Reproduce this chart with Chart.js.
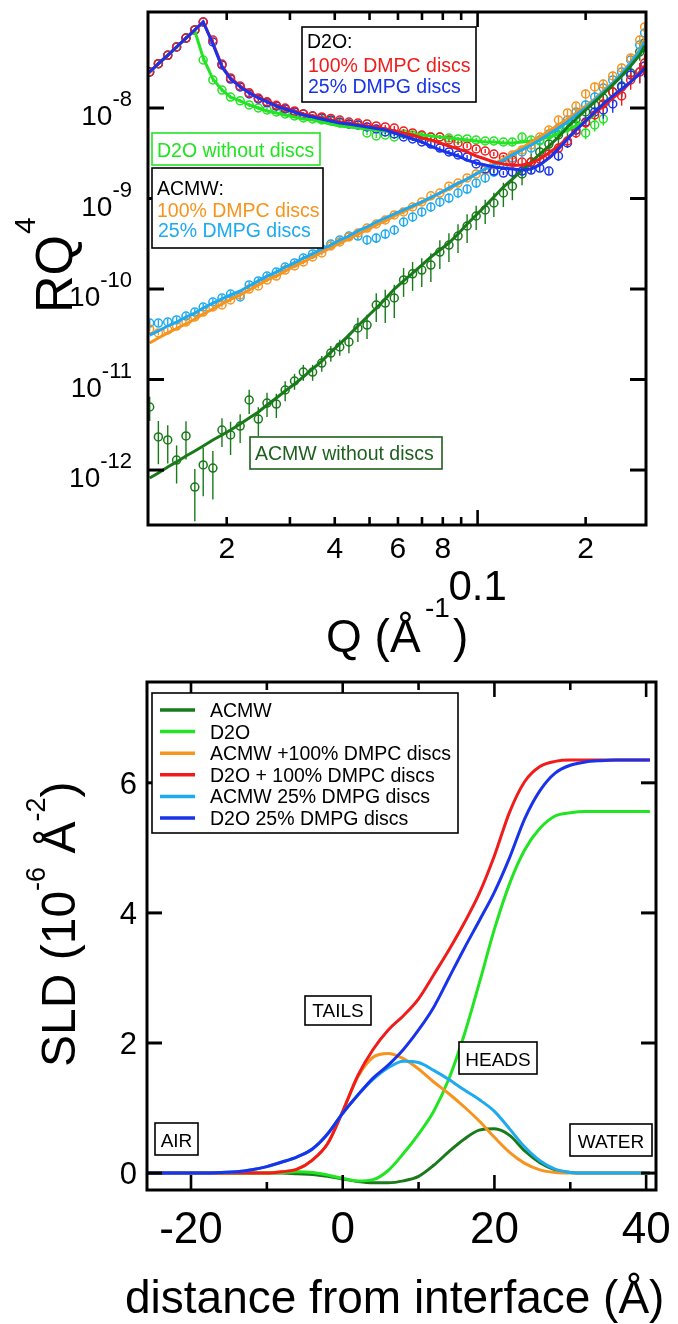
<!DOCTYPE html>
<html><head><meta charset="utf-8">
<script src="https://cdn.jsdelivr.net/npm/chart.js@4.4.1/dist/chart.umd.min.js"></script>
<style>
html,body{margin:0;padding:0;background:#fff;}
#wrap{position:relative;width:678px;height:1324px;overflow:hidden;background:#fff;}
#c1{position:absolute;left:0;top:0;}
#c2{position:absolute;left:0;top:660px;}
</style></head><body>
<div id="wrap">
<canvas id="c1" width="678" height="675"></canvas>
<canvas id="c2" width="678" height="664"></canvas>
</div>
<script>
// ================= DATA : reflectivity (top) =================
const qValues = [0.0122,0.0129,0.0137,0.0145,0.0154,0.0163,0.0172,0.0183,0.0194,0.0205,0.0218,0.0231,0.0245,0.0259,0.0275,0.0291,0.0309,0.0327,0.0347,0.0368,0.0390,0.0413,0.0438,0.0464,0.0492,0.0522,0.0553,0.0586,0.0622,0.0659,0.0699,0.0741,0.0785,0.0832,0.0882,0.0935,0.0991,0.105,0.111,0.118,0.125,0.133,0.141,0.149,0.158,0.168,0.178,0.188,0.200,0.212,0.224,0.238,0.252,0.267,0.283,0.292];

const rq4_D2O_DMPC = [2.50e-8,3.09e-8,3.82e-8,4.72e-8,5.92e-8,7.28e-8,8.92e-8,5.64e-8,3.06e-8,2.15e-8,1.75e-8,1.47e-8,1.29e-8,1.17e-8,1.07e-8,1.00e-8,9.27e-9,8.59e-9,8.16e-9,7.96e-9,7.66e-9,7.37e-9,7.00e-9,6.83e-9,6.66e-9,6.33e-9,6.17e-9,6.01e-9,5.57e-9,5.30e-9,5.03e-9,4.78e-9,4.78e-9,4.43e-9,4.11e-9,3.80e-9,3.53e-9,3.35e-9,3.10e-9,2.88e-9,2.66e-9,2.53e-9,2.53e-9,2.73e-9,3.10e-9,3.61e-9,4.32e-9,5.30e-9,6.83e-9,8.37e-9,1.11e-8,1.50e-8,1.36e-8,2.04e-8,2.50e-8,3.14e-8];
const fit_D2O_DMPC = [2.50e-8,3.09e-8,3.82e-8,4.72e-8,5.92e-8,7.28e-8,8.92e-8,5.23e-8,2.91e-8,2.15e-8,1.75e-8,1.50e-8,1.32e-8,1.20e-8,1.08e-8,1.00e-8,9.27e-9,8.59e-9,8.16e-9,7.76e-9,7.37e-9,7.00e-9,6.83e-9,6.58e-9,6.33e-9,6.17e-9,5.86e-9,5.57e-9,5.30e-9,5.03e-9,4.66e-9,4.43e-9,4.11e-9,3.80e-9,3.53e-9,3.27e-9,2.95e-9,2.73e-9,2.53e-9,2.41e-9,2.32e-9,2.35e-9,2.47e-9,2.73e-9,3.18e-9,3.80e-9,4.66e-9,5.71e-9,7.19e-9,8.81e-9,1.05e-8,1.29e-8,1.54e-8,1.94e-8,2.50e-8,2.91e-8];
const err_D2O_DMPC = [0.04,0.04,0.04,0.04,0.04,0.04,0.04,0.05,0.05,0.05,0.05,0.05,0.05,0.05,0.05,0.05,0.05,0.05,0.05,0.05,0.05,0.05,0.05,0.05,0.05,0.05,0.05,0.05,0.05,0.05,0.05,0.05,0.05,0.05,0.05,0.05,0.05,0.05,0.05,0.05,0.08,0.08,0.08,0.08,0.08,0.12,0.12,0.12,0.12,0.12,0.2,0.2,0.22,0.22,0.25,0.25];

const rq4_D2O_DMPG = [2.50e-8,3.09e-8,3.82e-8,4.72e-8,5.92e-8,7.28e-8,8.92e-8,5.36e-8,2.99e-8,2.09e-8,1.71e-8,1.43e-8,1.26e-8,1.14e-8,1.05e-8,9.76e-9,9.04e-9,8.59e-9,8.16e-9,7.76e-9,7.37e-9,7.00e-9,6.66e-9,6.49e-9,6.17e-9,5.86e-9,5.43e-9,5.16e-9,4.78e-9,4.55e-9,4.21e-9,4.00e-9,3.61e-9,3.27e-9,3.03e-9,2.88e-9,2.41e-9,2.12e-9,2.01e-9,1.91e-9,1.96e-9,2.01e-9,2.06e-9,2.17e-9,2.01e-9,2.95e-9,4.11e-9,5.71e-9,7.00e-9,9.04e-9,9.51e-9,1.11e-8,1.71e-8,2.32e-8,2.50e-8,2.91e-8];
const fit_D2O_DMPG = [2.50e-8,3.09e-8,3.82e-8,4.72e-8,5.92e-8,7.28e-8,8.92e-8,5.10e-8,2.84e-8,2.09e-8,1.71e-8,1.47e-8,1.29e-8,1.17e-8,1.05e-8,9.76e-9,9.04e-9,8.37e-9,7.96e-9,7.56e-9,7.19e-9,6.83e-9,6.66e-9,6.41e-9,6.17e-9,5.94e-9,5.71e-9,5.30e-9,4.91e-9,4.55e-9,4.21e-9,3.80e-9,3.44e-9,3.18e-9,2.95e-9,2.66e-9,2.47e-9,2.35e-9,2.23e-9,2.17e-9,2.12e-9,2.06e-9,2.12e-9,2.35e-9,2.80e-9,3.53e-9,4.55e-9,5.71e-9,7.19e-9,9.04e-9,1.11e-8,1.36e-8,1.62e-8,1.94e-8,2.38e-8,2.77e-8];
const err_D2O_DMPG = [0.04,0.04,0.04,0.04,0.04,0.04,0.04,0.05,0.05,0.05,0.05,0.05,0.05,0.05,0.05,0.05,0.05,0.05,0.05,0.05,0.05,0.05,0.05,0.05,0.05,0.05,0.05,0.05,0.05,0.05,0.05,0.05,0.05,0.05,0.05,0.05,0.05,0.05,0.05,0.05,0.08,0.08,0.08,0.08,0.08,0.12,0.12,0.12,0.12,0.12,0.2,0.2,0.22,0.22,0.25,0.25];

const rq4_D2O = [2.50e-8,3.09e-8,3.82e-8,4.72e-8,5.92e-8,7.28e-8,3.39e-8,2.04e-8,1.58e-8,1.32e-8,1.20e-8,1.08e-8,1.00e-8,9.51e-9,9.04e-9,8.59e-9,8.16e-9,7.76e-9,7.56e-9,7.37e-9,7.19e-9,6.83e-9,6.66e-9,6.49e-9,5.30e-9,4.91e-9,5.03e-9,4.78e-9,5.16e-9,5.03e-9,4.91e-9,4.78e-9,4.78e-9,4.66e-9,4.55e-9,4.55e-9,4.43e-9,4.32e-9,4.32e-9,4.21e-9,4.21e-9,4.78e-9,4.43e-9,4.32e-9,5.03e-9,5.43e-9,6.17e-9,6.49e-9,5.30e-9,6.49e-9,7.56e-9];
const fit_D2O = [2.50e-8,3.09e-8,3.82e-8,4.72e-8,5.92e-8,7.10e-8,3.57e-8,2.09e-8,1.58e-8,1.32e-8,1.20e-8,1.08e-8,1.00e-8,9.27e-9,8.81e-9,8.37e-9,7.96e-9,7.56e-9,7.37e-9,7.00e-9,6.66e-9,6.33e-9,6.17e-9,6.01e-9,5.86e-9,5.71e-9,5.57e-9,5.43e-9,5.30e-9,5.16e-9,5.03e-9,4.91e-9,4.78e-9,4.66e-9,4.55e-9,4.43e-9,4.32e-9,4.21e-9,4.21e-9,4.11e-9,4.11e-9,4.21e-9,4.32e-9,4.55e-9,4.78e-9,5.16e-9,5.71e-9,6.33e-9,7.19e-9,8.37e-9];
const err_D2O = [0.04,0.04,0.04,0.04,0.04,0.04,0.04,0.05,0.05,0.05,0.05,0.05,0.05,0.05,0.05,0.05,0.05,0.05,0.05,0.05,0.05,0.05,0.05,0.05,0.05,0.05,0.05,0.05,0.05,0.05,0.05,0.05,0.05,0.05,0.05,0.05,0.05,0.05,0.05,0.05,0.08,0.08,0.08,0.08,0.08,0.15,0.15,0.15,0.15,0.15,0.15];

const rq4_ACMW_DMPC = [3.61e-11,3.27e-11,3.53e-11,3.90e-11,4.32e-11,4.91e-11,5.57e-11,6.33e-11,6.66e-11,7.56e-11,8.59e-11,1.00e-10,1.08e-10,1.26e-10,1.39e-10,1.62e-10,1.80e-10,1.99e-10,2.26e-10,2.50e-10,2.99e-10,3.31e-10,3.76e-10,4.16e-10,4.72e-10,5.23e-10,5.79e-10,6.58e-10,7.10e-10,8.06e-10,9.16e-10,1.07e-9,1.15e-9,1.37e-9,1.48e-9,1.69e-9,1.87e-9,2.06e-9,2.35e-9,2.66e-9,3.03e-9,3.44e-9,3.90e-9,4.78e-9,5.71e-9,7.37e-9,8.81e-9,1.05e-8,1.43e-8,1.71e-8,1.84e-8,2.26e-8,2.77e-8,3.57e-8,5.64e-8,7.86e-8];
const fit_ACMW_DMPC = [2.53e-11,2.88e-11,3.27e-11,3.66e-11,4.11e-11,4.66e-11,5.30e-11,6.01e-11,6.83e-11,7.66e-11,8.59e-11,9.76e-11,1.11e-10,1.26e-10,1.39e-10,1.58e-10,1.80e-10,1.99e-10,2.26e-10,2.56e-10,2.84e-10,3.22e-10,3.57e-10,4.05e-10,4.49e-10,5.10e-10,5.64e-10,6.41e-10,7.10e-10,8.06e-10,8.92e-10,1.01e-9,1.15e-9,1.27e-9,1.45e-9,1.64e-9,1.87e-9,2.12e-9,2.41e-9,2.73e-9,3.18e-9,3.61e-9,4.21e-9,4.78e-9,5.57e-9,6.49e-9,7.56e-9,8.81e-9,1.05e-8,1.26e-8,1.54e-8,1.89e-8,2.38e-8,3.22e-8,4.38e-8,5.64e-8];
const err_ACMW_DMPC = [0.06,0.06,0.06,0.06,0.06,0.06,0.06,0.06,0.06,0.06,0.06,0.06,0.06,0.06,0.06,0.06,0.06,0.06,0.06,0.06,0.06,0.06,0.06,0.06,0.06,0.06,0.06,0.06,0.06,0.06,0.06,0.06,0.06,0.06,0.06,0.06,0.06,0.06,0.06,0.06,0.08,0.08,0.08,0.08,0.08,0.08,0.08,0.08,0.12,0.12,0.12,0.12,0.12,0.12,0.12,0.12];

const rq4_ACMW_DMPG = [4.21e-11,4.21e-11,4.32e-11,4.55e-11,5.03e-11,5.57e-11,6.33e-11,7.19e-11,7.96e-11,8.81e-11,8.16e-11,1.11e-10,1.23e-10,1.39e-10,1.54e-10,1.75e-10,1.94e-10,2.20e-10,2.44e-10,2.77e-10,3.14e-10,3.48e-10,3.85e-10,3.85e-10,3.48e-10,3.66e-10,4.05e-10,4.49e-10,5.50e-10,6.25e-10,7.10e-10,8.06e-10,9.16e-10,1.01e-9,1.15e-9,1.27e-9,1.48e-9,1.69e-9,1.96e-9,2.35e-9,2.80e-9,3.27e-9,3.61e-9,4.43e-9,5.16e-9,6.01e-9,7.37e-9,9.04e-9,1.08e-8,1.32e-8,1.66e-8,2.04e-8,2.50e-8,3.39e-8,4.97e-8,6.75e-8];
const fit_ACMW_DMPG = [3.10e-11,3.44e-11,3.90e-11,4.32e-11,4.91e-11,5.43e-11,6.17e-11,7.00e-11,7.76e-11,8.59e-11,9.51e-11,1.08e-10,1.23e-10,1.39e-10,1.54e-10,1.75e-10,1.94e-10,2.20e-10,2.44e-10,2.77e-10,3.06e-10,3.48e-10,3.85e-10,4.38e-10,4.85e-10,5.50e-10,6.09e-10,6.75e-10,7.47e-10,8.27e-10,9.16e-10,1.03e-9,1.15e-9,1.31e-9,1.48e-9,1.64e-9,1.87e-9,2.12e-9,2.35e-9,2.66e-9,3.03e-9,3.44e-9,3.90e-9,4.43e-9,5.16e-9,6.01e-9,7.00e-9,8.37e-9,1.00e-8,1.23e-8,1.50e-8,1.89e-8,2.38e-8,3.14e-8,4.27e-8,5.36e-8];
const err_ACMW_DMPG = [0.08,0.08,0.08,0.08,0.08,0.08,0.08,0.08,0.08,0.08,0.08,0.08,0.08,0.08,0.08,0.08,0.08,0.08,0.08,0.08,0.08,0.08,0.08,0.08,0.12,0.12,0.12,0.12,0.12,0.12,0.12,0.12,0.12,0.12,0.12,0.12,0.12,0.12,0.12,0.12,0.12,0.12,0.12,0.12,0.12,0.12,0.12,0.12,0.15,0.15,0.15,0.15,0.15,0.15,0.15,0.15];

const rq4_ACMW = [4.97e-12,2.32e-12,2.15e-12,1.29e-12,2.38e-12,6.49e-13,1.14e-12,1.05e-12,2.77e-12,2.44e-12,3.06e-12,5.94e-12,3.66e-12,5.50e-12,5.36e-12,7.66e-12,9.63e-12,1.21e-11,1.21e-11,1.52e-11,1.96e-11,2.29e-11,2.60e-11,3.71e-11,4.00e-11,6.66e-11,7.00e-11,7.96e-11,1.26e-10,1.47e-10,1.62e-10,1.84e-10,2.56e-10,3.06e-10,3.85e-10,4.97e-10,6.41e-10,7.47e-10,8.92e-10,1.15e-9,1.37e-9,1.87e-9,2.53e-9,3.27e-9,4.00e-9,5.03e-9,6.17e-9,7.56e-9,9.04e-9,1.08e-8,1.29e-8,1.50e-8,1.75e-8,2.44e-8,4.16e-8,5.23e-8];
const fit_ACMW = [8.16e-13,9.27e-13,1.08e-12,1.23e-12,1.43e-12,1.62e-12,1.84e-12,2.15e-12,2.44e-12,2.77e-12,3.22e-12,3.76e-12,4.38e-12,5.23e-12,6.25e-12,7.47e-12,8.92e-12,1.07e-11,1.31e-11,1.60e-11,2.01e-11,2.47e-11,3.10e-11,3.90e-11,4.91e-11,6.17e-11,7.76e-11,1.00e-10,1.23e-10,1.50e-10,1.84e-10,2.26e-10,2.70e-10,3.22e-10,4.05e-10,5.23e-10,6.58e-10,8.27e-10,1.04e-9,1.34e-9,1.64e-9,2.06e-9,2.53e-9,3.10e-9,3.80e-9,4.78e-9,6.17e-9,7.56e-9,9.51e-9,1.17e-8,1.43e-8,1.80e-8,2.26e-8,2.91e-8,3.85e-8,4.85e-8];
const err_ACMW = [0.3,0.5,0.45,0.45,0.45,0.58,0.55,0.55,0.35,0.4,0.35,0.3,0.35,0.3,0.3,0.25,0.2,0.2,0.2,0.2,0.2,0.2,0.25,0.3,0.3,0.35,0.4,0.4,0.35,0.35,0.35,0.35,0.35,0.35,0.35,0.35,0.3,0.3,0.3,0.3,0.3,0.25,0.25,0.25,0.25,0.25,0.25,0.25,0.25,0.25,0.25,0.25,0.25,0.25,0.2,0.2];

const qTicks = [0.02,0.03,0.04,0.05,0.06,0.07,0.08,0.09,0.1,0.2];
const qTickLabels = ['2','','4','','6','','8','','0.1','2'];
const rqDecades = [1e-8,1e-9,1e-10,1e-11,1e-12];
const rqDecadeExps = ['-8','-9','-10','-11','-12'];

// ================= DATA : SLD profiles (bottom) =================
const zValues = [-26,-24,-22,-20,-18,-16,-14,-12,-10,-8,-6,-4,-2,0,2,4,6,8,10,12,14,16,18,20,22,24,26,28,30,32,34,36,38,40,40.5];
const sld_ACMW      = [0,0,0,0,0,0,0,0,0,0,-0.01,-0.02,-0.05,-0.09,-0.13,-0.15,-0.15,-0.12,-0.05,0.12,0.33,0.52,0.66,0.68,0.58,0.34,0.16,0.05,0.01,0,0,0,0,0,0];
const sld_D2O       = [0,0,0,0,0,0,0,0,0,0.01,0.02,0.01,-0.03,-0.08,-0.12,-0.1,0.04,0.3,0.6,0.95,1.45,2.12,2.92,3.75,4.45,4.97,5.3,5.49,5.54,5.56,5.56,5.56,5.56,5.56,5.56];
const sld_ACMW_DMPC = [0,0,0,0,0,0,0,0,0,0.02,0.06,0.2,0.45,0.95,1.48,1.78,1.84,1.76,1.6,1.4,1.22,1.02,0.8,0.55,0.32,0.15,0.05,0.01,0,0,0,0,0,0,0];
const sld_D2O_DMPC  = [0,0,0,0,0,0,0,0,0,0.02,0.06,0.2,0.45,0.95,1.5,1.9,2.2,2.42,2.68,3.05,3.43,3.84,4.3,4.88,5.55,6.02,6.25,6.33,6.35,6.35,6.35,6.35,6.35,6.35,6.35];
const sld_ACMW_DMPG = [0,0,0,0,0,0.01,0.02,0.05,0.1,0.17,0.25,0.37,0.6,0.92,1.2,1.44,1.62,1.72,1.7,1.58,1.44,1.28,1.13,0.95,0.68,0.4,0.19,0.06,0.01,0,0,0,0,0,0];
const sld_D2O_DMPG  = [0,0,0,0,0,0.01,0.02,0.05,0.1,0.17,0.25,0.37,0.6,0.92,1.2,1.46,1.66,1.9,2.2,2.55,3.0,3.45,3.88,4.32,4.85,5.45,5.88,6.15,6.27,6.32,6.34,6.35,6.35,6.35,6.35];
const zTicks = [-20,-10,0,10,20,30,40];
const zTickLabels = ['-20','','0','','20','','40'];
const sldTicks = [0,2,4,6];

// ================= STYLE =================
const FONT = "'Liberation Sans', Arial, Helvetica, sans-serif";
const C_DG = '#187a18', C_G = '#22e422', C_OR = '#f7941e', C_RED = '#f01c1c', C_LB = '#1eaaf0', C_BL = '#1833ea';
const C_DG_TXT = '#1d5f1d';

function pts(vals){ return vals.map((v,i)=>({x:qValues[i], y:v})); }
function zpts(vals){ return vals.map((v,i)=>({x:zValues[i], y:v})); }

function pointSet(label, vals, err, color, order){
  return {label, data:pts(vals), errRel:err, showLine:false, borderColor:color, backgroundColor:'rgba(255,255,255,0)',
    pointRadius:4, pointBorderWidth:1.5, pointBorderColor:color, pointBackgroundColor:'rgba(255,255,255,0)', order};
}
function fitSet(label, vals, color, order){
  return {label, data:pts(vals), showLine:true, borderColor:color, borderWidth:3, pointRadius:0, tension:0, fill:false, order};
}

const errorBars = {
  id:'errorBars',
  afterDatasetDraw(chart, args){
    const ds = chart.data.datasets[args.index];
    if(!ds.errRel) return;
    const {ctx, chartArea:a, scales:{x,y}} = chart;
    ctx.save();
    ctx.beginPath(); ctx.rect(a.left, a.top, a.right-a.left, a.bottom-a.top); ctx.clip();
    ctx.strokeStyle = ds.borderColor; ctx.lineWidth = 1.4;
    ds.data.forEach((p,i)=>{
      const e = ds.errRel[i];
      const px = x.getPixelForValue(p.x);
      const y1 = y.getPixelForValue(p.y*(1+e)), y2 = y.getPixelForValue(p.y*(1-e));
      ctx.beginPath(); ctx.moveTo(px,y1); ctx.lineTo(px,y2); ctx.stroke();
    });
    ctx.restore();
  }
};

function line(ctx,x1,y1,x2,y2){ ctx.beginPath(); ctx.moveTo(x1,y1); ctx.lineTo(x2,y2); ctx.stroke(); }
function box(ctx,x1,y1,x2,y2,color){
  ctx.fillStyle='#fff'; ctx.fillRect(x1,y1,x2-x1,y2-y1);
  ctx.strokeStyle=color; ctx.lineWidth=1.6; ctx.strokeRect(x1,y1,x2-x1,y2-y1);
}

const topDecor = {
  id:'topDecor',
  afterDraw(chart){
    const {ctx, chartArea:a, scales:{x,y}} = chart;
    ctx.save();
    ctx.strokeStyle='#000'; ctx.lineCap='butt';
    ctx.lineWidth=2.6;
    qTicks.forEach(q=>{ const px=x.getPixelForValue(q); const len=(q===0.1)?15:8;
      line(ctx,px,a.bottom,px,a.bottom-len); line(ctx,px,a.top,px,a.top+len); });
    ctx.lineWidth=3;
    rqDecades.forEach(v=>{ const py=y.getPixelForValue(v);
      line(ctx,a.left,py,a.left+16,py); line(ctx,a.right,py,a.right-16,py); });
    ctx.lineWidth=3; ctx.strokeRect(a.left,a.top,a.right-a.left,a.bottom-a.top);

    ctx.fillStyle='#000'; ctx.textBaseline='alphabetic';
    qTicks.forEach((q,k)=>{ const lab=qTickLabels[k]; if(!lab) return; const px=x.getPixelForValue(q);
      ctx.textAlign='center';
      if(lab==='0.1'){ ctx.font=`42px ${FONT}`; ctx.fillText(lab,px,600); }
      else { ctx.font=`30px ${FONT}`; ctx.fillText(lab,px,558); } });
    ctx.textAlign='left';
    rqDecades.forEach((v,k)=>{ const py=y.getPixelForValue(v); const s=rqDecadeExps[k];
      ctx.font=`22px ${FONT}`; const ws=ctx.measureText(s).width;
      ctx.font=`28px ${FONT}`; const wb=ctx.measureText('10').width;
      ctx.fillText('10',132-ws-wb,py+17);
      ctx.font=`22px ${FONT}`; ctx.fillText(s,132-ws,py-2); });
    // axis titles
    ctx.font=`46px ${FONT}`; ctx.fillText('Q (Å',326,652);
    ctx.font=`28px ${FONT}`; ctx.fillText('-1',425,617);
    ctx.font=`46px ${FONT}`; ctx.fillText(')',453,652);
    ctx.save(); ctx.translate(72,313); ctx.rotate(-Math.PI/2);
    ctx.font=`52px ${FONT}`; ctx.fillText('RQ',0,0); const w=ctx.measureText('RQ').width;
    ctx.font=`30px ${FONT}`; ctx.fillText('4',w+1,-37);
    ctx.restore();

    // annotation boxes
    ctx.font=`19.5px ${FONT}`; ctx.textAlign='left';
    box(ctx,302,27,476,102,'#000');
    ctx.fillStyle='#000'; ctx.fillText('D2O:',307,48);
    ctx.fillStyle=C_RED; ctx.fillText('100% DMPC discs',308,72);
    ctx.fillStyle=C_BL; ctx.fillText('25% DMPG discs',308,93);
    box(ctx,152,133,320,165,C_G);
    ctx.fillStyle=C_G; ctx.fillText('D2O without discs',157,157);
    box(ctx,152,168,323,248,'#000');
    ctx.fillStyle='#000'; ctx.fillText('ACMW:',157,195);
    ctx.fillStyle=C_OR; ctx.fillText('100% DMPC discs',157,217);
    ctx.fillStyle=C_LB; ctx.fillText('25% DMPG discs',158,237);
    box(ctx,250,437,442,469,C_DG_TXT);
    ctx.fillStyle=C_DG_TXT; ctx.fillText('ACMW without discs',255,460);
    ctx.restore();
  }
};

new Chart(document.getElementById('c1'), {
  type:'scatter',
  data:{datasets:[
    fitSet('D2O 25% DMPG discs (fit)', fit_D2O_DMPG, C_BL, 1),
    fitSet('D2O + 100% DMPC discs (fit)', fit_D2O_DMPC, C_RED, 2),
    fitSet('ACMW without discs (fit)', fit_ACMW, C_DG, 3),
    fitSet('ACMW 25% DMPG discs (fit)', fit_ACMW_DMPG, C_LB, 4),
    fitSet('ACMW +100% DMPC discs (fit)', fit_ACMW_DMPC, C_OR, 5),
    fitSet('D2O without discs (fit)', fit_D2O, C_G, 6),
    pointSet('D2O + 100% DMPC discs', rq4_D2O_DMPC, err_D2O_DMPC, C_RED, 7),
    pointSet('D2O 25% DMPG discs', rq4_D2O_DMPG, err_D2O_DMPG, C_BL, 8),
    pointSet('D2O without discs', rq4_D2O, err_D2O, C_G, 9),
    pointSet('ACMW +100% DMPC discs', rq4_ACMW_DMPC, err_ACMW_DMPC, C_OR, 10),
    pointSet('ACMW 25% DMPG discs', rq4_ACMW_DMPG, err_ACMW_DMPG, C_LB, 11),
    pointSet('ACMW without discs', rq4_ACMW, err_ACMW, C_DG, 12)
  ]},
  options:{
    responsive:false, animation:false, devicePixelRatio:1, events:[],
    layout:{padding:{left:148, top:12, right:32, bottom:150}},
    plugins:{legend:{display:false}, tooltip:{enabled:false}, title:{display:false}},
    scales:{
      x:{type:'logarithmic', min:0.01207, max:0.2946, display:false},
      y:{type:'logarithmic', min:2.47e-13, max:1.15e-7, display:false}
    }
  },
  plugins:[errorBars, topDecor]
});

// ================= bottom chart =================
const sldSets = [
  {label:'ACMW', vals:sld_ACMW, color:C_DG, order:6},
  {label:'D2O', vals:sld_D2O, color:C_G, order:5},
  {label:'ACMW +100% DMPC discs', vals:sld_ACMW_DMPC, color:C_OR, order:4},
  {label:'D2O + 100% DMPC discs', vals:sld_D2O_DMPC, color:C_RED, order:3},
  {label:'ACMW 25% DMPG discs', vals:sld_ACMW_DMPG, color:C_LB, order:2},
  {label:'D2O 25% DMPG discs', vals:sld_D2O_DMPG, color:C_BL, order:1}
];

const bottomDecor = {
  id:'bottomDecor',
  afterDraw(chart){
    const {ctx, chartArea:a, scales:{x,y}} = chart;
    ctx.save();
    ctx.strokeStyle='#000'; ctx.lineCap='butt';
    ctx.lineWidth=2.6;
    zTicks.forEach((z,k)=>{ const px=x.getPixelForValue(z); const len=zTickLabels[k]?15:8;
      line(ctx,px,a.bottom,px,a.bottom-len); line(ctx,px,a.top,px,a.top+len); });
    ctx.lineWidth=3;
    sldTicks.forEach(v=>{ const py=y.getPixelForValue(v);
      line(ctx,a.left,py,a.left+15,py); line(ctx,a.right,py,a.right-15,py); });
    ctx.strokeRect(a.left,a.top,a.right-a.left,a.bottom-a.top);

    ctx.fillStyle='#000'; ctx.textBaseline='alphabetic';
    ctx.font=`31px ${FONT}`; ctx.textAlign='right';
    sldTicks.forEach(v=>{ const py=y.getPixelForValue(v); ctx.fillText(String(v),137,py+11); });
    ctx.font=`44px ${FONT}`; ctx.textAlign='center';
    zTicks.forEach((z,k)=>{ const lab=zTickLabels[k]; if(!lab) return; ctx.fillText(lab,x.getPixelForValue(z),583); });
    ctx.textAlign='left';
    ctx.font=`46px ${FONT}`; ctx.fillText('distance from interface (Å)',125,653);
    ctx.save(); ctx.translate(75,407); ctx.rotate(-Math.PI/2);
    let cx=0;
    const parts=[['SLD (10',48,0],['-6',27,-30],[' Å',48,0],['-2',27,-30],[')',48,0]];
    parts.forEach(p=>{ ctx.font=`${p[1]}px ${FONT}`; ctx.fillText(p[0],cx,p[2]); cx+=ctx.measureText(p[0]).width; });
    ctx.restore();

    // legend
    box(ctx,152,33,458,173,'#000');
    ctx.font=`19.5px ${FONT}`; ctx.textAlign='left';
    chart.data.datasets.forEach((ds,i)=>{
      const ry=50+i*21.6;
      ctx.strokeStyle=ds.borderColor; ctx.lineWidth=3.5; line(ctx,160,ry,195,ry);
      ctx.fillStyle='#000'; ctx.fillText(ds.label,210,ry+7);
    });
    const regions=[['TAILS',305,336,371,365],['HEADS',459,382,537,414],['AIR',155,463,198,495],['WATER',570,464,652,496]];
    ctx.font=`19px ${FONT}`; ctx.textAlign='center';
    regions.forEach(r=>{ box(ctx,r[1],r[2],r[3],r[4],'#000'); ctx.fillStyle='#000'; ctx.fillText(r[0],(r[1]+r[3])/2,r[4]-8); });
    ctx.restore();
  }
};

new Chart(document.getElementById('c2'), {
  type:'scatter',
  data:{datasets: sldSets.map(s=>({label:s.label, data:zpts(s.vals), showLine:true, borderColor:s.color, borderWidth:3,
    pointRadius:0, cubicInterpolationMode:'monotone', fill:false, order:s.order}))},
  options:{
    responsive:false, animation:false, devicePixelRatio:1, events:[],
    layout:{padding:{left:147, top:22, right:22, bottom:134}},
    plugins:{legend:{display:false}, tooltip:{enabled:false}, title:{display:false}},
    scales:{
      x:{type:'linear', min:-25.8, max:41.3, display:false},
      y:{type:'linear', min:-0.26, max:7.55, display:false}
    }
  },
  plugins:[bottomDecor]
});
</script>
</body></html>
